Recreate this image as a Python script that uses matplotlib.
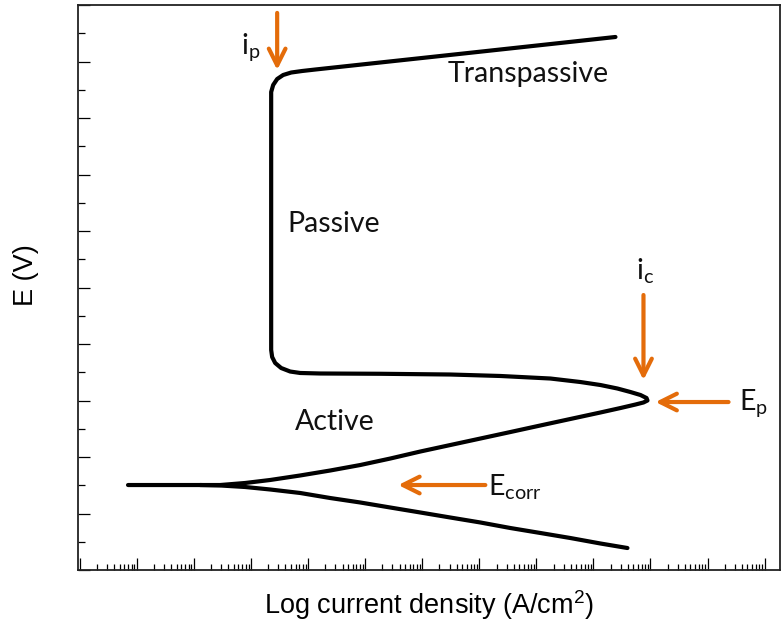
import matplotlib
matplotlib.use("Agg")
import matplotlib.pyplot as plt
from matplotlib.ticker import LogLocator, MultipleLocator, NullFormatter
import numpy as np

# ---- data (log10 current density, potential) ----
anodic_logi = [-11.158, -10.070, -9.544, -9.105, -8.667, -8.140, -7.614, -7.088, -6.561,
               -6.035, -5.509, -4.982, -4.456, -3.930, -3.404, -2.877, -2.526, -2.263,
               -2.123, -2.053, -2.070, -2.175, -2.351, -2.579, -2.877, -3.228, -3.754,
               -4.632, -5.509, -6.737, -7.789, -8.140, -8.316, -8.474, -8.579, -8.632,
               -8.649, -8.649, -8.649, -8.614, -8.544, -8.439, -8.298, -8.105, -7.877,
               -5.246, -2.614]
anodic_E = [1.504, 1.504, 1.504, 1.540, 1.593, 1.673, 1.761, 1.858, 1.973,
            2.097, 2.212, 2.327, 2.442, 2.558, 2.673, 2.788, 2.867, 2.929,
            2.965, 3.000, 3.044, 3.097, 3.150, 3.212, 3.274, 3.327, 3.389,
            3.434, 3.460, 3.473, 3.478, 3.487, 3.513, 3.575, 3.664, 3.770,
            3.894, 8.319, 8.460, 8.584, 8.690, 8.761, 8.805, 8.832, 8.858,
            9.145, 9.434]

cathodic_logi = [-9.895, -9.544, -9.105, -8.667, -8.140, -7.614, -7.088, -6.561,
                 -6.035, -5.509, -4.982, -4.456, -3.930, -3.404, -2.877, -2.404]
cathodic_E = [1.504, 1.496, 1.469, 1.425, 1.363, 1.274, 1.195, 1.106,
              1.018, 0.929, 0.841, 0.743, 0.655, 0.566, 0.469, 0.389]

region_labels = ["Transpassive", "Passive", "Active"]

orange = "#E46C0A"

fig = plt.figure(figsize=(7.83, 6.30), dpi=100)
ax = fig.add_axes([78/783, 60/630, 702/783, 565/630])

ax.plot(10**np.array(anodic_logi), anodic_E, color="black", lw=3.0,
        solid_capstyle="round", solid_joinstyle="round")
ax.plot(10**np.array(cathodic_logi), cathodic_E, color="black", lw=3.0,
        solid_capstyle="round", solid_joinstyle="round")

ax.set_xscale("log")
ax.set_xlim(10**-12.035, 10**0.27)
ax.set_ylim(0, 10)

ax.xaxis.set_major_locator(LogLocator(base=10, numticks=30))
ax.xaxis.set_minor_locator(LogLocator(base=10, subs=np.arange(2, 10), numticks=30))
ax.xaxis.set_major_formatter(NullFormatter())
ax.xaxis.set_minor_formatter(NullFormatter())
ax.yaxis.set_major_locator(MultipleLocator(1))
ax.yaxis.set_minor_locator(MultipleLocator(0.5))
ax.yaxis.set_major_formatter(NullFormatter())

ax.tick_params(axis="x", which="major", direction="in", length=8.5, width=0.9)
ax.tick_params(axis="x", which="minor", direction="in", length=4, width=0.9)
ax.tick_params(axis="y", which="major", direction="in", length=8.5, width=0.9)
ax.tick_params(axis="y", which="minor", direction="in", length=4.8, width=0.9)
for s in ax.spines.values():
    s.set_linewidth(1.3)
    s.set_color("#222222")

ax.set_xlabel(r"Log current density (A/cm$^\mathregular{2}$)", fontsize=19.5,
              family="Liberation Sans")
ax.xaxis.set_label_coords(0.5, -0.033)
ax.xaxis.label.set_va("top")
ax.set_ylabel("E (V)", fontsize=19.5, family="Liberation Sans")
ax.yaxis.set_label_coords(-0.055, 0.522)

tfont = dict(family="Lato", fontsize=20.5, color="#111111")
ax.text(10**-5.56, 8.637, region_labels[0], ha="left", va="baseline", **tfont)
ax.text(10**-8.37, 5.982, region_labels[1], ha="left", va="baseline", **tfont)
ax.text(10**-8.23, 2.478, region_labels[2], ha="left", va="baseline", **tfont)

ap = dict(arrowstyle="->,head_length=0.6,head_width=0.3", color=orange, lw=3,
          mutation_scale=20, shrinkA=0, shrinkB=0)
# i_p
ax.annotate("", xy=(10**-8.544, 8.85), xytext=(10**-8.544, 9.86), arrowprops=ap)
ax.text(10**-9.175, 9.15, r"$\mathregular{i_p}$", ha="left", va="baseline", **tfont)
# i_c
ax.annotate("", xy=(10**-2.123, 3.363), xytext=(10**-2.123, 4.867), arrowprops=ap)
ax.text(10**-2.088, 5.133, r"$\mathregular{i_c}$", ha="center", va="baseline", **tfont)
# E_p
ax.annotate("", xy=(10**-1.912, 2.973), xytext=(10**-0.632, 2.973), arrowprops=ap)
ax.text(10**-0.456, 2.832, r"$\mathregular{E_p}$", ha="left", va="baseline", **tfont)
# E_corr
ax.annotate("", xy=(10**-6.421, 1.504), xytext=(10**-4.895, 1.504), arrowprops=ap)
ax.text(10**-4.842, 1.327, r"$\mathregular{E_{corr}}$", ha="left", va="baseline", **tfont)

fig.savefig("out.png", dpi=100)
